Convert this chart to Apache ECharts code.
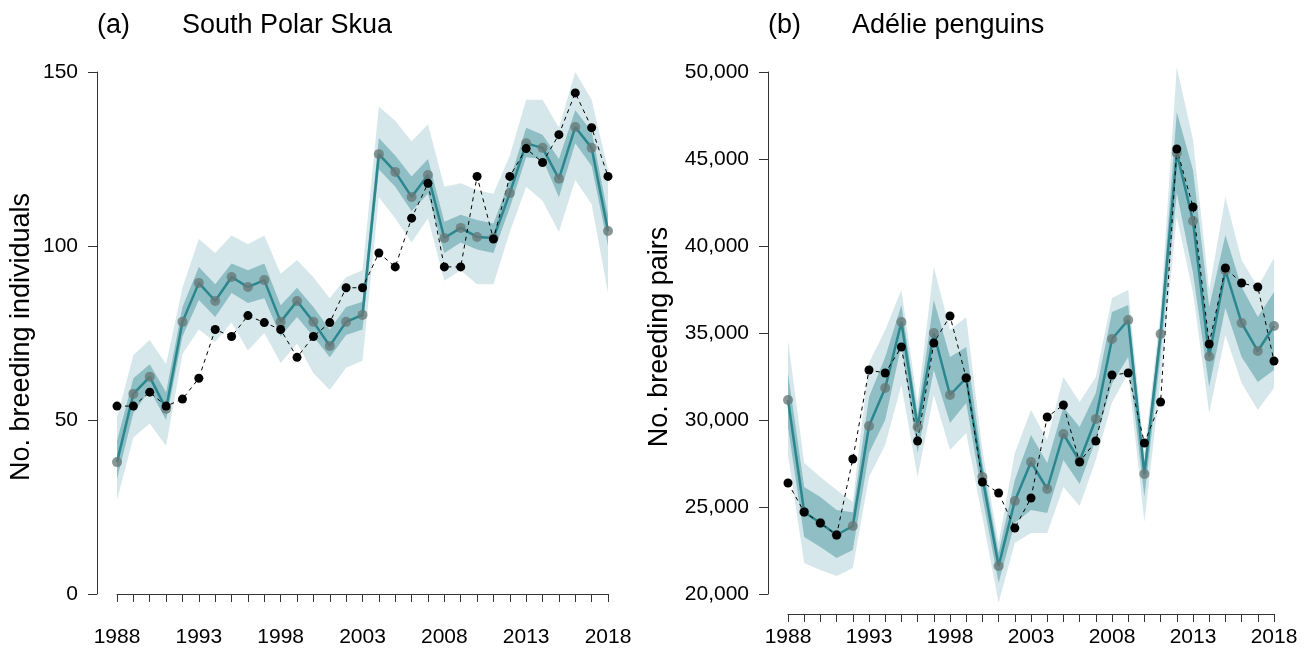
<!DOCTYPE html>
<html>
<head>
<meta charset="utf-8">
<script src="https://cdn.jsdelivr.net/npm/echarts@6/dist/echarts.min.js"></script>
<style>html,body{margin:0;padding:0;background:#fff;}#c{width:1309px;height:648px;}</style>
</head>
<body>
<div id="c"></div>
<script>
var years = [1988,1989,1990,1991,1992,1993,1994,1995,1996,1997,1998,1999,2000,2001,2002,2003,2004,2005,2006,2007,2008,2009,2010,2011,2012,2013,2014,2015,2016,2017,2018];
var xTickLabels = [1988,1993,1998,2003,2008,2013,2018];

// (a) South Polar Skua
var skuaModel = [37.9,57.5,62.4,53.2,78.2,89.4,84.2,91.1,88.2,90.2,78.2,84.2,78.2,71.3,78.2,80.2,126.4,121.3,114.1,120.4,102.3,105.2,102.6,102.3,115.2,129.5,128.2,119.3,134.2,128.2,104.3];
var skuaObs = [54,54,58,54,56,62,76,74,80,78,76,68,74,78,88,88,98,94,108,118,94,94,120,102,120,128,124,132,144,134,120];
var skuaLightUp = [50.6,68.7,73,66,88,102,98,103,100.5,103,92,96,91,85,91,93,140,136,130,135,117,118,116,115,126,142,142,134,150,142,122];
var skuaLightLo = [27,45,49,42.5,69,76,72.4,78,70,75,66.4,72,63.5,58.6,65,67,114,108,101,108,90,93,89,89,104,117,113,104,119,112,86.5];
var skuaDarkUp = [44,62,66,58,82.5,94,89,95,93,95,83,88,82.5,76,82.5,84,131,126,120,125,107,109,107.5,106.5,119,134,132,125,139,133,109];
var skuaDarkLo = [33,52,58.6,50,74,84.5,79.6,86.5,83.6,85,74,79.6,74,68,74.4,76,122,117,110,115,98,101,99,98,111,125.5,125,114,129.5,123,100];
var skuaYTicks = [0,50,100,150];

// (b) Adelie penguins
var adelModel = [31149,24713,24080,23390,23908,29655,31839,35632,29598,35000,31437,32414,26724,21609,25345,27586,26034,29195,27644,30057,34655,35747,26896,34942,45345,41437,33650,38600,35575,33965,35402];
var adelObs = [26379,24713,24080,23390,27758,32873,32700,34195,28793,34425,35977,32414,26437,25805,23793,25517,30172,30862,27586,28793,32586,32701,28678,31034,45575,42241,34368,38736,37873,37643,33391];
var adelLightUp = [34600,27529,26724,25977,25287,33276,35172,37471,31000,38793,35172,35920,28276,22931,28103,30574,28851,32471,31034,32471,37011,37471,28103,36322,50287,46092,37471,42816,39195,37643,39310];
var adelLightLo = [28000,21781,21379,21034,21494,26724,28563,32011,26724,31437,28276,29253,24425,19483,22931,23506,23506,26149,25057,27701,31000,32701,24138,32299,41667,37299,30402,34885,32126,30574,31839];
var adelDarkUp = [32700,26149,25575,24827,24700,31322,33621,36609,30300,36897,33621,34195,27529,22356,26552,29138,27529,30747,29598,31552,36207,36609,27600,35632,47701,44368,36494,40632,37643,35920,37356];
var adelDarkLo = [29600,23276,22700,22069,22529,28103,30000,34310,28100,32873,29827,30977,25575,20632,24080,24827,24655,27701,26322,28851,32100,33621,25575,33736,43046,38448,31897,36437,33621,32184,32873];
var adelYTicks = [20000,25000,30000,35000,40000,45000,50000];

var LIGHT = '#d5e7ea', DARK = '#8fbfc5', TEAL = '#2b868e', GRAYPT = 'rgba(105,120,120,0.78)';
var FONT = '"Liberation Sans", Arial, Helvetica, sans-serif';

function pairs(arr){ return years.map(function(y,i){ return [y, arr[i]]; }); }
function commas(v){ return String(v).replace(/\B(?=(\d{3})+(?!\d))/g, ','); }

function bandSeries(idx, up, lo, color){
  return {
    type:'custom', xAxisIndex:idx, yAxisIndex:idx, silent:true, clip:false,
    data: years.map(function(y,i){ return [y, lo[i], up[i]]; }),
    encode:{x:0, y:[1,2]},
    renderItem:function(params, api){
      if (params.dataIndex !== 0) return null;
      var pts = [];
      for (var i = 0; i < years.length; i++) pts.push(api.coord([years[i], up[i]]));
      for (var j = years.length - 1; j >= 0; j--) pts.push(api.coord([years[j], lo[j]]));
      return {type:'polygon', shape:{points:pts}, style:{fill:color, stroke:null}};
    }
  };
}

function panelSeries(idx, model, obs, lu, ll, du, dl){
  return [
    bandSeries(idx, lu, ll, LIGHT),
    bandSeries(idx, du, dl, DARK),
    {type:'line', xAxisIndex:idx, yAxisIndex:idx, data:pairs(model), clip:false,
     symbol:'circle', symbolSize:10, showAllSymbol:true,
     lineStyle:{color:TEAL, width:2.5}, itemStyle:{color:GRAYPT, borderWidth:0}},
    {type:'line', xAxisIndex:idx, yAxisIndex:idx, data:pairs(obs), clip:false,
     symbol:'circle', symbolSize:9, showAllSymbol:true,
     lineStyle:{color:'#000', width:1, type:[4,4]}, itemStyle:{color:'#000', borderWidth:0}}
  ];
}

function xAxisDef(idx){
  return {type:'value', gridIndex:idx, min:1988, max:2018, interval:1, offset:20,
    axisLine:{show:true, lineStyle:{color:'#333', width:1}},
    axisTick:{show:true, length:8, lineStyle:{color:'#333', width:1}},
    axisLabel:{fontSize:21, color:'#000', fontFamily:FONT, margin:13,
      formatter:function(v){ return xTickLabels.indexOf(v) >= 0 ? String(v) : ''; }},
    splitLine:{show:false}};
}
function yAxisDef(idx, ticks, fmt){
  return {type:'value', gridIndex:idx, min:ticks[0], max:ticks[ticks.length-1], interval:ticks[1]-ticks[0], offset:20,
    axisLine:{show:true, lineStyle:{color:'#333', width:1}},
    axisTick:{show:true, length:9, lineStyle:{color:'#333', width:1}},
    axisLabel:{fontSize:21, color:'#000', fontFamily:FONT, margin:19, formatter:fmt},
    splitLine:{show:false}};
}

var chart = echarts.init(document.getElementById('c'));
chart.setOption({
  animation:false,
  backgroundColor:'#fff',
  grid:[
    {left:117, right:701, top:72, bottom:54},
    {left:788, right:35, top:72, bottom:54}
  ],
  xAxis:[xAxisDef(0), xAxisDef(1)],
  yAxis:[yAxisDef(0, skuaYTicks, function(v){return String(v);}), yAxisDef(1, adelYTicks, commas)],
  series: panelSeries(0, skuaModel, skuaObs, skuaLightUp, skuaLightLo, skuaDarkUp, skuaDarkLo)
    .concat(panelSeries(1, adelModel, adelObs, adelLightUp, adelLightLo, adelDarkUp, adelDarkLo)),
  graphic:[
    {type:'text', left:97, top:12, style:{text:'(a)', font:'27px '+FONT, fill:'#000'}},
    {type:'text', left:182, top:12, style:{text:'South Polar Skua', font:'27px '+FONT, fill:'#000'}},
    {type:'text', left:768, top:12, style:{text:'(b)', font:'27px '+FONT, fill:'#000'}},
    {type:'text', left:852, top:12, style:{text:'Adélie penguins', font:'27px '+FONT, fill:'#000'}},
    {type:'text', x:22, y:337, rotation:Math.PI/2, style:{text:'No. breeding individuals', font:'27px '+FONT, fill:'#000', align:'center', verticalAlign:'middle'}},
    {type:'text', x:660, y:337, rotation:Math.PI/2, style:{text:'No. breeding pairs', font:'27px '+FONT, fill:'#000', align:'center', verticalAlign:'middle'}}
  ]
});
</script>
</body>
</html>
